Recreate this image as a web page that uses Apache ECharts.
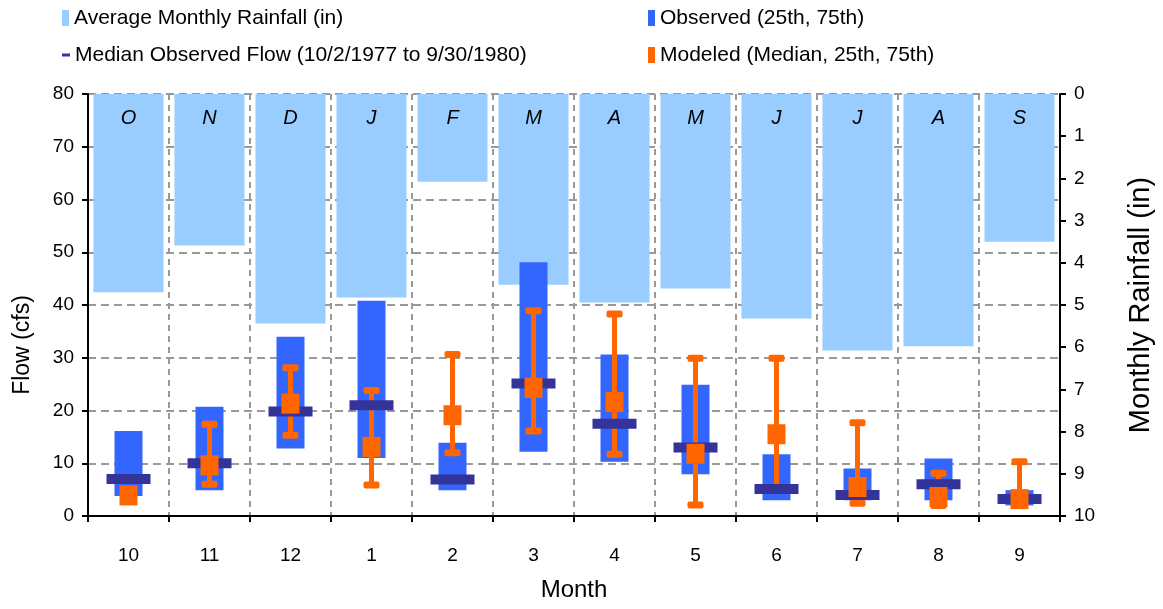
<!DOCTYPE html>
<html>
<head>
<meta charset="utf-8">
<script src="https://cdn.jsdelivr.net/npm/echarts@6/dist/echarts.min.js"></script>
<style>
html,body{margin:0;padding:0;background:#fff;}
#chart{width:1163px;height:609px;}
</style>
</head>
<body>
<div id="chart"></div>
<script>
// ---- data ----
const months = ['10','11','12','1','2','3','4','5','6','7','8','9'];
const monthLetters = ['O','N','D','J','F','M','A','M','J','J','A','S'];
const rainfall = [4.70, 3.59, 5.44, 4.82, 2.08, 4.52, 4.94, 4.61, 5.32, 6.08, 5.98, 3.50];
const obs25 = [3.8, 4.9, 12.8, 11.0, 4.9, 12.2, 10.3, 7.9, 3.0, 3.0, 3.0, 2.0];
const obs75 = [16.1, 20.7, 34.0, 40.8, 13.9, 48.1, 30.6, 24.9, 11.7, 9.0, 10.9, 4.9];
const obsMedian = [7.0, 10.0, 19.8, 21.0, 6.9, 25.1, 17.5, 13.0, 5.1, 4.0, 6.0, 3.2];
const modMedian = [3.9, 9.6, 21.3, 13.1, 19.1, 24.3, 21.6, 11.8, 15.5, 5.5, 3.6, 3.2];
const mod25 = [3.0, 6.0, 15.3, 5.9, 12.0, 16.1, 11.7, 2.1, 5.0, 2.4, 2.0, 2.0];
const mod75 = [5.0, 17.4, 28.1, 23.8, 30.6, 38.9, 38.3, 29.9, 29.9, 17.7, 8.1, 10.3];
const flowTicks = {min: 0, max: 80, interval: 10};
const rainTicks = {min: 0, max: 10, interval: 1};

const NAME_RAIN = 'Average Monthly Rainfall (in)';
const NAME_OBS = 'Observed (25th, 75th)';
const NAME_MED = 'Median Observed Flow (10/2/1977 to 9/30/1980)';
const NAME_MOD = 'Modeled (Median, 25th, 75th)';

const C_RAIN = '#99CCFF', C_OBS = '#3366FF', C_MED = '#333399', C_MOD = '#FF6600';
const FONT = '"Liberation Sans", Arial, sans-serif';

const chart = echarts.init(document.getElementById('chart'), null, {renderer: 'canvas'});

const legendText = {fontFamily: FONT, fontSize: 21, lineHeight: 24, color: '#000'};

const option = {
  animation: false,
  backgroundColor: '#fff',
  textStyle: {fontFamily: FONT, color: '#000'},
  grid: {left: 88, right: 100, top: 94, bottom: 93, containLabel: false},
  legend: [
    {left: 62, top: 6, padding: 0, itemWidth: 7, itemHeight: 16, icon: 'rect',
     data: [NAME_RAIN], textStyle: legendText},
    {left: 62, top: 43, padding: 0, itemWidth: 8, itemHeight: 3, icon: 'rect',
     data: [NAME_MED], textStyle: legendText},
    {left: 648, top: 6, padding: 0, itemWidth: 7, itemHeight: 16, icon: 'rect',
     data: [NAME_OBS], textStyle: legendText},
    {left: 648, top: 43, padding: 0, itemWidth: 7, itemHeight: 16, icon: 'rect',
     data: [NAME_MOD], textStyle: legendText}
  ],
  xAxis: {
    type: 'category',
    data: months,
    name: 'Month',
    nameLocation: 'middle',
    nameGap: 62,
    nameTextStyle: {fontFamily: FONT, fontSize: 24, color: '#000'},
    axisLine: {lineStyle: {color: '#000', width: 2}},
    axisTick: {show: true, length: 6, lineStyle: {color: '#000', width: 2}},
    axisLabel: {fontFamily: FONT, fontSize: 19, color: '#000', margin: 30},
    splitLine: {show: true, lineStyle: {color: '#999', width: 2, type: [6, 5]}}
  },
  yAxis: [
    {
      type: 'value', position: 'left',
      min: flowTicks.min, max: flowTicks.max, interval: flowTicks.interval,
      name: 'Flow (cfs)', nameLocation: 'middle', nameGap: 54, nameRotate: 90,
      nameTextStyle: {fontFamily: FONT, fontSize: 23, color: '#000', padding: [0, 0, 0, -80]},
      axisLine: {show: true, lineStyle: {color: '#000', width: 2}},
      axisTick: {show: true, length: 6, lineStyle: {color: '#000', width: 2}},
      axisLabel: {fontFamily: FONT, fontSize: 19, color: '#000', margin: 14},
      splitLine: {show: true, lineStyle: {color: '#999', width: 2, type: [8, 5]}}
    },
    {
      type: 'value', position: 'right', inverse: true,
      min: rainTicks.min, max: rainTicks.max, interval: rainTicks.interval,
      name: 'Monthly Rainfall (in)', nameLocation: 'middle', nameGap: 66, nameRotate: 90,
      nameTextStyle: {fontFamily: FONT, fontSize: 29, color: '#000'},
      axisLine: {show: true, lineStyle: {color: '#000', width: 2}},
      axisTick: {show: true, length: 6, lineStyle: {color: '#000', width: 2}},
      axisLabel: {fontFamily: FONT, fontSize: 19, color: '#000', margin: 14},
      splitLine: {show: false}
    }
  ],
  series: [
    {
      name: NAME_RAIN, type: 'bar', yAxisIndex: 1, z: 2,
      data: rainfall, barWidth: 70,
      itemStyle: {color: C_RAIN},
      label: {show: true, position: 'insideTop', distance: 14,
        formatter: p => monthLetters[p.dataIndex],
        fontFamily: FONT, fontStyle: 'italic', fontSize: 20, color: '#000'}
    },
    {
      name: NAME_OBS, type: 'custom', yAxisIndex: 0, z: 3,
      itemStyle: {color: C_OBS},
      data: obs25.map((v, i) => [i, v, obs75[i]]),
      renderItem: (params, api) => {
        const lo = api.coord([api.value(0), api.value(1)]);
        const hi = api.coord([api.value(0), api.value(2)]);
        return {type: 'rect', shape: {x: lo[0] - 14, y: hi[1], width: 28, height: lo[1] - hi[1]},
                style: {fill: C_OBS}};
      }
    },
    {
      name: NAME_MOD, type: 'custom', yAxisIndex: 0, z: 4,
      itemStyle: {color: C_MOD},
      data: modMedian.map((v, i) => [i, v, mod25[i], mod75[i]]),
      renderItem: (params, api) => {
        const lo = api.coord([api.value(0), api.value(2)]);
        const hi = api.coord([api.value(0), api.value(3)]);
        const cx = lo[0];
        return {type: 'group', children: [
          {type: 'rect', shape: {x: cx - 2.5, y: hi[1], width: 5, height: lo[1] - hi[1]}, style: {fill: C_MOD}},
          {type: 'rect', shape: {x: cx - 8, y: hi[1] - 3.5, width: 16, height: 7, r: 2}, style: {fill: C_MOD}},
          {type: 'rect', shape: {x: cx - 8, y: lo[1] - 3.5, width: 16, height: 7, r: 2}, style: {fill: C_MOD}}
        ]};
      }
    },
    {
      name: NAME_MED, type: 'custom', yAxisIndex: 0, z: 5,
      itemStyle: {color: C_MED},
      data: obsMedian.map((v, i) => [i, v]),
      renderItem: (params, api) => {
        const p = api.coord([api.value(0), api.value(1)]);
        return {type: 'rect', shape: {x: p[0] - 22, y: p[1] - 5, width: 44, height: 10},
                style: {fill: C_MED}};
      }
    },
    {
      name: NAME_MOD, type: 'custom', yAxisIndex: 0, z: 6,
      itemStyle: {color: C_MOD},
      data: modMedian.map((v, i) => [i, v]),
      renderItem: (params, api) => {
        const p = api.coord([api.value(0), api.value(1)]);
        return {type: 'rect', shape: {x: p[0] - 9, y: p[1] - 10, width: 18, height: 20},
                style: {fill: C_MOD}};
      }
    }
  ]
};
chart.setOption(option);
</script>
</body>
</html>
